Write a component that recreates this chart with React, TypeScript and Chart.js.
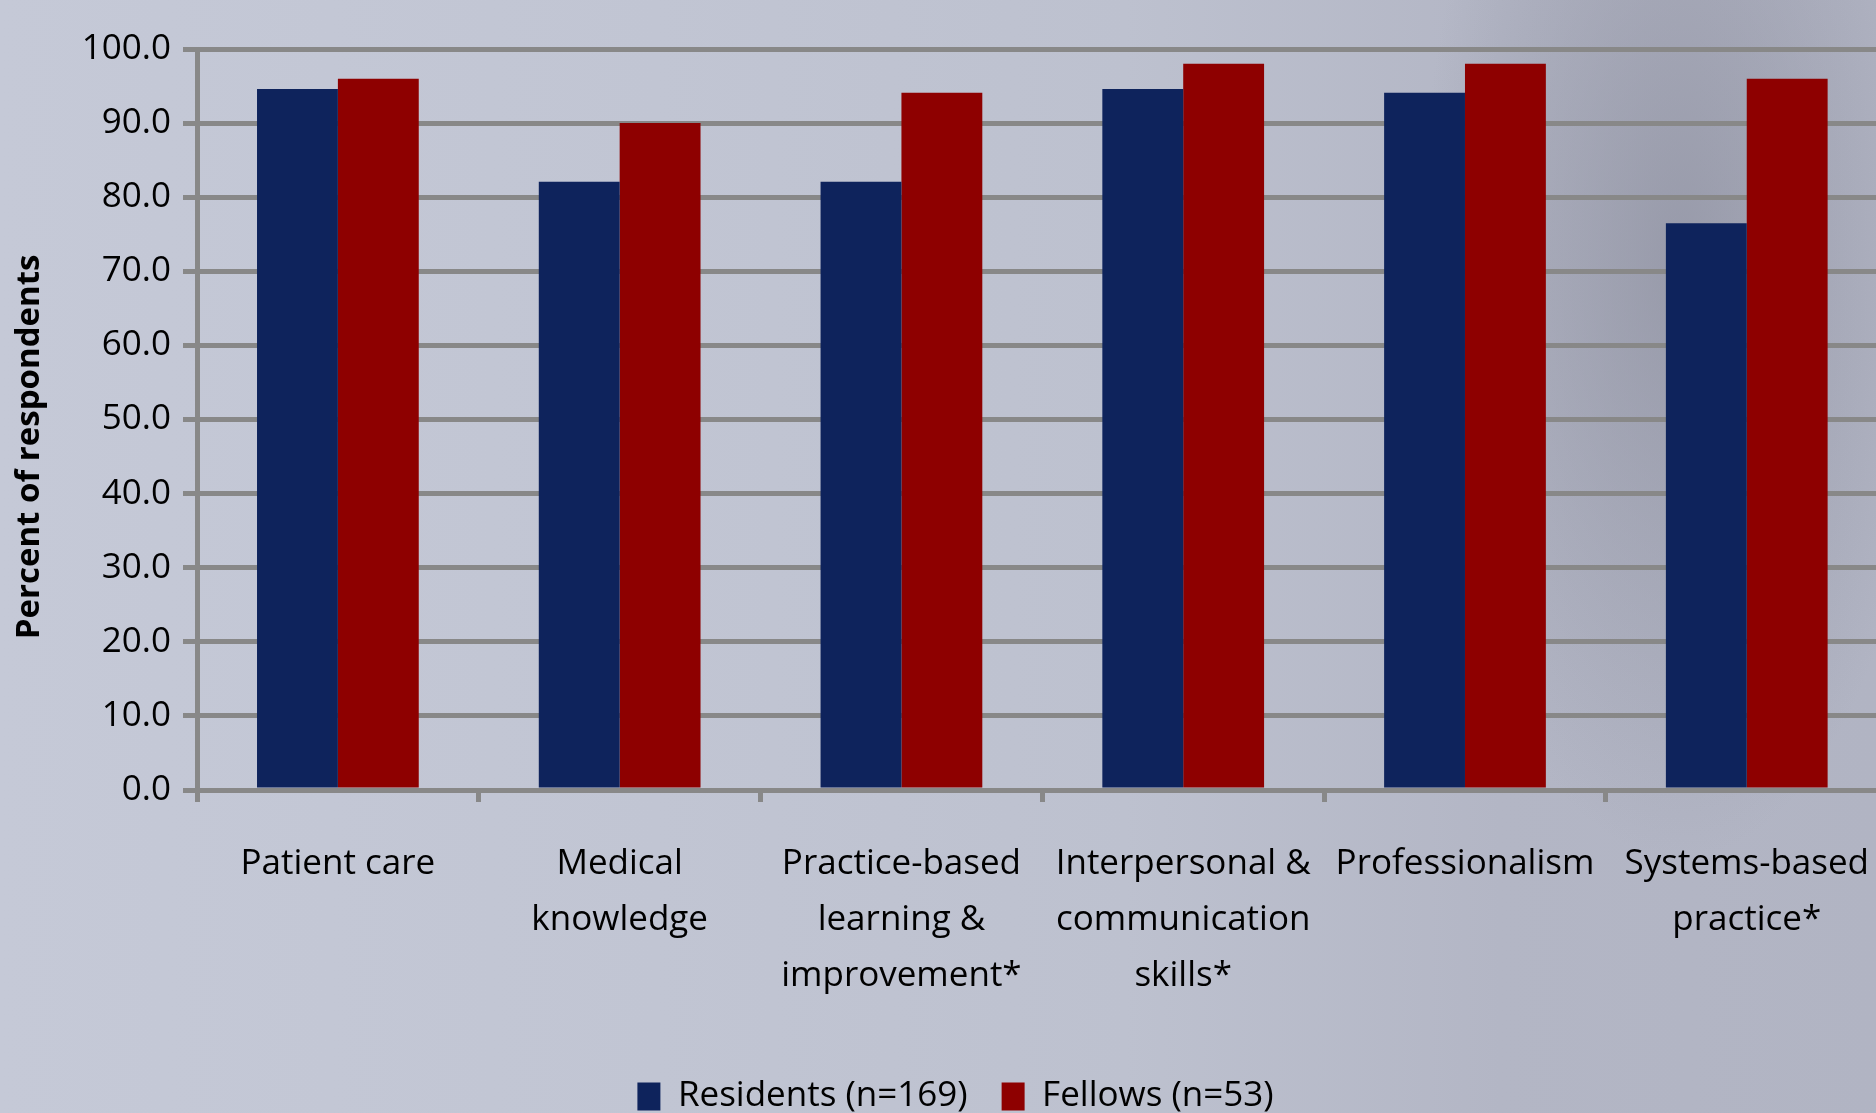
import React, { useEffect, useRef } from "react";
import { Chart, registerables } from "chart.js";

Chart.register(...registerables);

// ---- data ----
const categories: (string | string[])[] = [
  "Patient care",
  ["Medical", "knowledge"],
  ["Practice-based", "learning &", "improvement*"],
  ["Interpersonal &", "communication", "skills*"],
  "Professionalism",
  ["Systems-based", "practice*"],
];
const residents = [94.6, 82.1, 82.1, 94.6, 94.1, 76.5];
const fellows = [96.0, 90.0, 94.1, 98.0, 98.0, 96.0];
const seriesLabels = ["Residents (n=169)", "Fellows (n=53)"];
const yMin = 0;
const yMax = 100;
const yStep = 10;
const yAxisTitle = "Percent of respondents";

const NAVY = "#0e235c";
const RED = "#8e0000";
const GRID = "#888888";
const FONT = "'Open Sans', 'Noto Sans', sans-serif";

const yTitlePlugin = {
  id: "yTitleDraw",
  afterDraw(chart: any) {
    const { ctx, chartArea } = chart;
    ctx.save();
    const cy = chartArea.top + (chartArea.bottom - chartArea.top) * 0.537;
    ctx.translate(30, cy);
    ctx.rotate(-Math.PI / 2);
    ctx.font = `bold 33px ${FONT}`;
    ctx.fillStyle = "#000";
    ctx.textAlign = "center";
    ctx.textBaseline = "middle";
    ctx.fillText(yAxisTitle, 0, 0);
    ctx.restore();
  },
};

const legendShiftPlugin = {
  id: "legendShift",
  afterUpdate(chart: any) {
    const lg = chart.legend;
    if (lg) {
      lg.left += 4;
      lg.right += 4;
    }
  },
};

export default function App() {
  const ref = useRef<HTMLCanvasElement | null>(null);

  useEffect(() => {
    if (!ref.current) return;
    const chart = new Chart(ref.current, {
      type: "bar",
      data: {
        labels: categories,
        datasets: [
          {
            label: seriesLabels[0],
            data: residents,
            backgroundColor: NAVY,
            borderWidth: 0,
          },
          {
            label: seriesLabels[1],
            data: fellows,
            backgroundColor: RED,
            borderWidth: 0,
          },
        ],
      },
      options: {
        responsive: false,
        animation: false,
        devicePixelRatio: 1,
        layout: { padding: { top: 49, left: 0, right: 0, bottom: 0 } },
        datasets: {
          bar: { categoryPercentage: 0.574, barPercentage: 1.0 },
        },
        scales: {
          x: {
            offset: true,
            grid: {
              display: true,
              drawOnChartArea: false,
              drawTicks: true,
              tickLength: 12,
              lineWidth: 5,
              color: GRID,
              offset: true,
            },
            border: { display: true, color: GRID, width: 5 },
            ticks: {
              autoSkip: false,
              maxRotation: 0,
              minRotation: 0,
              padding: 34,
              color: "#000",
              font: { family: FONT, size: 35, lineHeight: 1.6 },
            },
            afterFit(scale: any) {
              scale.height = 255;
            },
          },
          y: {
            min: yMin,
            max: yMax,
            grid: {
              display: true,
              drawTicks: true,
              tickLength: 14,
              lineWidth: 5,
              color: GRID,
            },
            border: { display: true, color: GRID, width: 5 },
            ticks: {
              stepSize: yStep,
              padding: 12,
              color: "#000",
              font: { family: FONT, size: 35 },
              callback: (v: any) => Number(v).toFixed(1),
            },
            title: { display: false },
            afterFit(scale: any) {
              scale.width = 197;
            },
          },
        },
        plugins: {
          legend: {
            display: true,
            position: "bottom",
            labels: {
              boxWidth: 23,
              boxHeight: 28,
              padding: 34,
              color: "#000",
              font: { family: FONT, size: 35 },
            },
          },
          tooltip: { enabled: false },
        },
      },
      plugins: [yTitlePlugin, legendShiftPlugin],
    } as any);
    return () => chart.destroy();
  }, []);

  return (
    <div
      style={{
        position: "fixed",
        left: 0,
        top: 0,
        width: 1876,
        height: 1113,
        overflow: "hidden",
        background:
          "radial-gradient(ellipse 260px 600px at 1680px 260px, rgba(130,132,148,0.55), rgba(130,132,148,0) 100%), linear-gradient(90deg, #c5c9d7 0%, #c1c5d3 35%, #bdc1cf 60%, #b3b6c5 80%, #b1b4c3 100%)",
      }}
    >
      <canvas ref={ref} width={1903} height={1124} style={{ display: "block" }} />
    </div>
  );
}
